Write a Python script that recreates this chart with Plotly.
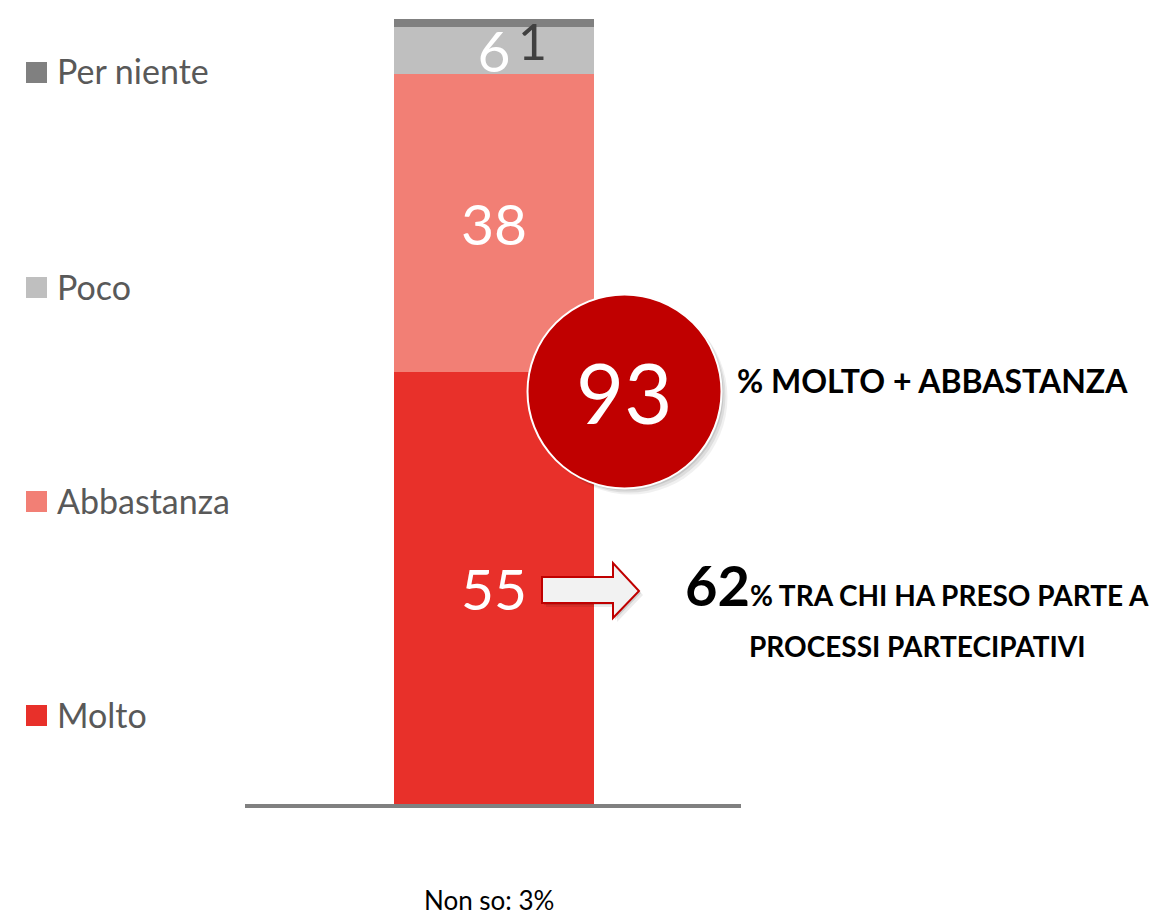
import plotly.graph_objects as go

# ---- data ----
categories = ["Molto", "Abbastanza", "Poco", "Per niente"]
values = [55, 38, 6, 1]
colors = ["#E8302A", "#F27F75", "#BFBFBF", "#808080"]
label_colors = ["white", "white", "white", "#404040"]
non_so = 3
share_participants = 62
circle_caption = "% MOLTO + ABBASTANZA"
participants_caption_1 = "% TRA CHI HA PRESO PARTE A"
participants_caption_2 = "PROCESSI PARTECIPATIVI"

# page places the figure 8px from top-left (body margin)
OFF = 8
W, H = 1168 - OFF, 915 - OFF
FONT = "Lato"


def px(x):
    return (x - OFF) / W


def py(y):
    return 1 - (y - OFF) / H


fig = go.Figure()

for i, (cat, val, col) in enumerate(zip(categories, values, colors)):
    show_inside = i < 3
    fig.add_trace(go.Bar(
        x=[0], y=[val], name=cat, width=1,
        marker=dict(color=col, line=dict(width=0)),
        text=[str(val)] if show_inside else None,
        textposition="inside" if show_inside else "none",
        insidetextanchor="middle",
        textangle=0,
        constraintext="none",
        textfont=dict(family=FONT, size=57, color=label_colors[i]),
        hoverinfo="skip",
    ))

annotations = []
shapes = []

# label for "Per niente" (small top segment) placed beside the top
annotations.append(dict(
    x=0.19, y=sum(values), xref="x", yref="y", yshift=10,
    text=str(values[3]), showarrow=False, xanchor="center", yanchor="top",
    font=dict(family=FONT, size=50, color=label_colors[3]),
))

# legend (custom)
legend_centers = [715, 501, 287, 72]
for cat, col, yc in zip(categories, colors, legend_centers):
    shapes.append(dict(type="rect", xref="paper", yref="paper",
                       x0=px(26), x1=px(47), y0=py(yc + 11), y1=py(yc - 10),
                       fillcolor=col, line=dict(width=0)))
    annotations.append(dict(
        x=px(55), y=py(yc - 1), xref="paper", yref="paper", text=cat,
        showarrow=False, xanchor="left", yanchor="middle",
        font=dict(family=FONT, size=34, color="#595959"),
    ))

# circle with Molto + Abbastanza
cx, cy, r = 624.5, 391.5, 97
for k, a in [(6, 0.06), (4, 0.08), (2, 0.10)]:
    shapes.append(dict(type="circle", xref="paper", yref="paper", layer="above",
                       x0=px(cx - r + k), x1=px(cx + r + k), y0=py(cy + r + k), y1=py(cy - r + k),
                       fillcolor=f"rgba(0,0,0,{a})", line=dict(width=0)))
shapes.append(dict(type="circle", xref="paper", yref="paper", layer="above",
                   x0=px(cx - r), x1=px(cx + r), y0=py(cy + r), y1=py(cy - r),
                   fillcolor="#C00000", line=dict(color="white", width=2)))
annotations.append(dict(
    x=px(cx - 1), y=py(cy), xref="paper", yref="paper",
    text=str(values[0] + values[1]), showarrow=False, xanchor="center", yanchor="middle",
    font=dict(family=FONT, size=83, color="white"),
))
annotations.append(dict(
    x=px(735), y=py(380), xref="paper", yref="paper",
    text="<b>" + circle_caption + "</b>", showarrow=False, xanchor="left", yanchor="middle",
    font=dict(family=FONT, size=32, color="black"),
))

# arrow
arrow_pts = [(542, 577), (613, 577), (613, 563), (639, 591), (613, 618), (613, 603), (542, 603)]


def arrow_path(dx=0, dy=0):
    return "M " + " L ".join(f"{px(x + dx)},{py(y + dy)}" for x, y in arrow_pts) + " Z"


for k, a in [(4, 0.08), (2, 0.12)]:
    shapes.append(dict(type="path", xref="paper", yref="paper", layer="above",
                       path=arrow_path(k, k), fillcolor=f"rgba(0,0,0,{a})", line=dict(width=0)))
shapes.append(dict(type="path", xref="paper", yref="paper", layer="above",
                   path=arrow_path(), fillcolor="#F2F2F2", line=dict(color="#C00000", width=2)))

annotations.append(dict(
    x=px(683), y=py(620), xref="paper", yref="paper",
    text=f"<b><span style='font-size:56px'>{share_participants}</span>{participants_caption_1}</b>",
    showarrow=False, xanchor="left", yanchor="bottom",
    font=dict(family=FONT, size=28, color="black"),
))
annotations.append(dict(
    x=px(917), y=py(646), xref="paper", yref="paper",
    text="<b>" + participants_caption_2 + "</b>",
    showarrow=False, xanchor="center", yanchor="middle",
    font=dict(family=FONT, size=28, color="black"),
))

annotations.append(dict(
    x=px(489), y=py(900), xref="paper", yref="paper",
    text=f"Non so: {non_so}%", showarrow=False, xanchor="center", yanchor="middle",
    font=dict(family=FONT, size=26, color="black"),
))

fig.update_layout(
    width=W, height=H,
    margin=dict(l=0, r=0, t=0, b=0),
    paper_bgcolor="white", plot_bgcolor="white",
    barmode="stack", showlegend=False,
    xaxis=dict(domain=[px(245), px(741)], range=[(245 - 494) / 200, (741 - 494) / 200],
               showline=True, linecolor="#808080", linewidth=4,
               showgrid=False, zeroline=False, showticklabels=False, ticks="", fixedrange=True),
    yaxis=dict(domain=[py(804), py(19)], range=[0, 100], visible=False, fixedrange=True),
    annotations=annotations,
    shapes=shapes,
)

fig.write_html("out.html")
